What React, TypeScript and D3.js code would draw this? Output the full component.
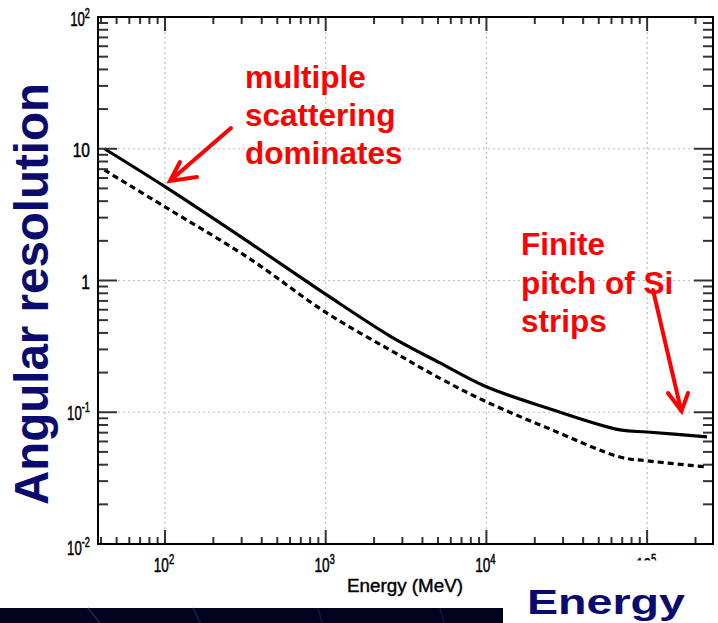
import React from "react";
import * as d3 from "d3";

const energySolid = [42, 100, 329, 1014, 2512, 5140, 10000, 24900, 67800, 100000, 236000];
const resSolid = [10.0, 5.15, 1.97, 0.777, 0.379, 0.237, 0.156, 0.106, 0.0735, 0.0708, 0.065];
const energyDashed = [42, 100, 329, 1014, 2512, 5140, 10000, 24900, 67800, 100000, 236000];
const resDashed = [6.9, 3.62, 1.49, 0.567, 0.297, 0.181, 0.12, 0.0745, 0.0457, 0.0428, 0.0384];

const xMajor = [100, 1000, 10000, 100000];
const xMajorSup = ["2", "3", "4", "5"];
const yMajor = [100, 10, 1, 0.1, 0.01];
const yMajorBase = ["10", "10", "1", "10", "10"];
const yMajorSup = ["2", "", "", "-1", "-2"];
const yGrid = [10, 1, 0.1];

const W = 718, H = 623;
const L = 98, R = 713, T = 17, B = 544;

export default function App() {
  const x = d3.scaleLog().domain([38.3, 2.57e5]).range([L, R]);
  const y = d3.scaleLog().domain([0.01, 100]).range([B, T]);

  const line = d3
    .line<[number, number]>()
    .x((d) => x(d[0]))
    .y((d) => y(d[1]))
    .curve(d3.curveCatmullRom.alpha(0.5));

  const solid = line(energySolid.map((e, i) => [e, resSolid[i]] as [number, number]))!;
  const dashed = line(energyDashed.map((e, i) => [e, resDashed[i]] as [number, number]))!;

  const [x0, x1] = x.domain();
  const xMinor: number[] = [];
  for (let k = 1; k <= 5; k++)
    for (let m = 2; m <= 9; m++) {
      const v = m * Math.pow(10, k);
      if (v > x0 && v < x1) xMinor.push(v);
    }
  const yMinor: number[] = [];
  for (let k = -2; k <= 1; k++)
    for (let m = 2; m <= 9; m++) yMinor.push(m * Math.pow(10, k));

  const tickColor = "#333";
  const font = "'Liberation Sans', Arial, sans-serif";
  const bold = "'Liberation Sans', Arial, sans-serif";

  return (
    <svg
      width={W}
      height={H}
      style={{ position: "absolute", left: 0, top: 0, background: "#fff" }}
    >
      <rect x={0} y={0} width={W} height={H} fill="#fff" />
      {/* grid */}
      {xMajor.map((v) => (
        <line key={"gx" + v} x1={x(v)} x2={x(v)} y1={T} y2={B} stroke="#bdbdbd" strokeWidth={1.2} strokeDasharray="2,3" />
      ))}
      {yGrid.map((v) => (
        <line key={"gy" + v} x1={L} x2={R} y1={y(v)} y2={y(v)} stroke="#bdbdbd" strokeWidth={1.2} strokeDasharray="2,3" />
      ))}
      {/* curves */}
      <path d={dashed} fill="none" stroke="#000" strokeWidth={3.2} strokeDasharray="6,4" />
      <path d={solid} fill="none" stroke="#000" strokeWidth={3.2} />
      {/* ticks */}
      <g stroke={tickColor} strokeWidth={2}>
        {xMinor.map((v) => (
          <g key={"xm" + v}>
            <line x1={x(v)} x2={x(v)} y1={B} y2={B - 7} />
            <line x1={x(v)} x2={x(v)} y1={T} y2={T + 7} />
          </g>
        ))}
        {xMajor.map((v) => (
          <g key={"xM" + v}>
            <line x1={x(v)} x2={x(v)} y1={B} y2={B - 14} />
            <line x1={x(v)} x2={x(v)} y1={T} y2={T + 14} />
          </g>
        ))}
        {yMinor.map((v) => (
          <g key={"ym" + v}>
            <line x1={L} x2={L + 10} y1={y(v)} y2={y(v)} />
            <line x1={R} x2={R - 10} y1={y(v)} y2={y(v)} />
          </g>
        ))}
        {yGrid.map((v) => (
          <g key={"yM" + v}>
            <line x1={L} x2={L + 19} y1={y(v)} y2={y(v)} />
            <line x1={R} x2={R - 19} y1={y(v)} y2={y(v)} />
          </g>
        ))}
      </g>
      {/* frame */}
      <rect x={L} y={T} width={R - L} height={B - T} fill="none" stroke="#000" strokeWidth={2} />
      {/* y tick labels */}
      {yMajor.map((v, i) => {
        const hasSup = yMajorSup[i] !== "";
        const dy = v === 0.01 ? 11 : v === 100 ? 9 : 8;
        return (
          <text
            key={"yl" + v}
            transform={`translate(90,${y(v) + dy}) scale(${hasSup ? 0.66 : 0.78},1)`}
            textAnchor="end"
            fontFamily={font}
            fontSize={20}
            fill="#000"
            stroke="#000"
            strokeWidth={0.5}
          >
            {yMajorBase[i]}
            {hasSup && (
              <tspan fontSize={14} dy={-8}>
                {yMajorSup[i]}
              </tspan>
            )}
          </text>
        );
      })}
      {/* x tick labels */}
      {xMajor.map((v, i) => (
        <text
          key={"xl" + v}
          transform={`translate(${x(v) - 1},${572}) scale(0.68,1)`}
          textAnchor="middle"
          fontFamily={font}
          fontSize={20}
          fill="#000"
          stroke="#000"
          strokeWidth={0.5}
        >
          10
          <tspan fontSize={14} dy={-8}>
            {xMajorSup[i]}
          </tspan>
        </text>
      ))}
      <text
        x={405}
        y={592}
        textAnchor="middle"
        fontFamily={font}
        fontSize={18}
        textLength={116}
        lengthAdjust="spacingAndGlyphs"
        fill="#000"
        stroke="#000"
        strokeWidth={0.4}
      >
        Energy (MeV)
      </text>
      {/* cover for big Energy label */}
      <rect x={600} y={560.5} width={118} height={63} fill="#fff" />
      {/* dark band */}
      <rect x={0} y={608} width={503} height={15} fill="#03031f" />
      <line x1={88} y1={608} x2={100} y2={623} stroke="#16324e" strokeWidth={2} opacity={0.8} />
      <line x1={193} y1={608} x2={200} y2={623} stroke="#12284a" strokeWidth={2} opacity={0.7} />
      <line x1={318} y1={608} x2={322} y2={623} stroke="#12284a" strokeWidth={1.5} opacity={0.6} />
      <line x1={440} y1={608} x2={444} y2={623} stroke="#12284a" strokeWidth={1.5} opacity={0.6} />
      <text
        x={527}
        y={614}
        fontFamily={bold}
        fontWeight="bold"
        fontSize={35}
        textLength={158}
        lengthAdjust="spacingAndGlyphs"
        fill="#0b0b6e"
      >
        Energy
      </text>
      {/* y title */}
      <text
        transform={`translate(48,505) rotate(-90)`}
        fontFamily={bold}
        fontWeight="bold"
        fontSize={48}
        textLength={422}
        lengthAdjust="spacingAndGlyphs"
        fill="#0b0b6e"
      >
        Angular resolution
      </text>
      {/* annotations */}
      <g fontFamily={bold} fontWeight="bold" fontSize={31.5} fill="#ff0000">
        <text x={245} y={88}>multiple</text>
        <text x={245} y={126}>scattering</text>
        <text x={245} y={164}>dominates</text>
        <text x={521} y={255}>Finite</text>
        <text x={521} y={294}>pitch of Si</text>
        <text x={521} y={332}>strips</text>
      </g>
      <g stroke="#ff0000" strokeWidth={4} fill="none" strokeLinecap="round">
        <line x1={231} y1={128} x2={171} y2={180} />
        <polyline points="180,162 170,181 197,177" />
        <line x1={653} y1={290} x2={681} y2={410} />
        <polyline points="668,393 681.5,411 688,393" />
      </g>
    </svg>
  );
}
